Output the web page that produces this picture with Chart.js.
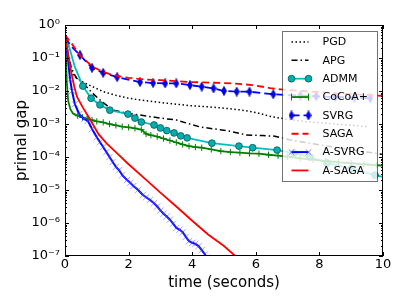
<!DOCTYPE html>
<html>
<head>
<meta charset="utf-8">
<script src="https://cdn.jsdelivr.net/npm/chart.js@4.4.1/dist/chart.umd.min.js"></script>
<style>
  html, body { margin: 0; padding: 0; background: #fff; }
  #wrap { width: 407px; height: 307px; }
</style>
</head>
<body>
<div id="wrap"><canvas id="chart" width="407" height="307"></canvas></div>
<script>
// Values: time in seconds, primal gap on a log axis.
const pgdTime = [0, 0.08, 0.15, 0.25, 0.5, 0.8, 1.2, 1.6, 2.0, 2.5, 3.0, 3.5, 4.0, 4.5, 5.0, 5.5, 6.0, 6.5, 7.0, 7.5, 8.0, 8.5, 9.0, 9.5];
const pgdGap = [5.0e-1, 1.58e-1, 6.3e-2, 3.16e-2, 2.0e-2, 1.45e-2, 9.55e-3, 7.41e-3, 6.03e-3, 5.13e-3, 4.47e-3, 3.98e-3, 3.55e-3, 3.31e-3, 3.02e-3, 2.69e-3, 2.24e-3, 1.66e-3, 1.38e-3, 1.2e-3, 1.1e-3, 1.0e-3, 9.12e-4, 8.32e-4];

const apgTime = [0, 0.1, 0.2, 0.35, 0.63, 0.85, 1.1, 1.5, 1.95, 2.5, 3.0, 3.5, 4.0, 4.25, 4.7, 5.1, 5.7, 6.2, 6.6, 7.07, 8.0, 9.0, 10];
const apgGap = [5.0e-1, 1.26e-1, 5.01e-2, 2.51e-2, 1.51e-2, 8.91e-3, 5.37e-3, 2.63e-3, 2.14e-3, 1.78e-3, 1.51e-3, 1.32e-3, 9.55e-4, 8.13e-4, 7.08e-4, 6.31e-4, 4.68e-4, 4.47e-4, 4.27e-4, 3.31e-4, 2.34e-4, 1.66e-4, 1.2e-4];

const admmTime = [0, 0.16, 0.31, 0.56, 0.82, 1.1, 1.41, 1.98, 2.2, 2.4, 2.8, 3.0, 3.2, 3.43, 3.64, 3.84, 4.62, 5.47, 5.9, 6.67, 7.2, 7.7, 8.24, 9.0, 9.75, 10];
const admmGap = [5.0e-1, 1.74e-1, 5.37e-2, 1.41e-2, 6.03e-3, 3.8e-3, 2.63e-3, 2.0e-3, 1.51e-3, 1.15e-3, 9.33e-4, 7.59e-4, 6.31e-4, 5.37e-4, 4.37e-4, 3.8e-4, 2.63e-4, 2.14e-4, 1.91e-4, 1.62e-4, 1.32e-4, 1.0e-4, 6.61e-5, 4.47e-5, 2.82e-5, 2.51e-5];

const cocoaTime = [0, 0.03, 0.06, 0.1, 0.17, 0.25, 0.4, 0.55, 0.7, 0.85, 1.0, 1.2, 1.4, 1.6, 1.8, 2.0, 2.2, 2.4, 2.55, 2.7, 2.9, 3.1, 3.3, 3.5, 3.7, 3.9, 4.1, 4.3, 4.6, 4.9, 5.2, 5.5, 5.8, 6.1, 6.4, 6.7, 7.0, 7.4, 7.8, 8.2, 8.6, 9.0, 9.4, 9.8, 10];
const cocoaGap = [5.0e-1, 1.0e-1, 1.58e-2, 5.01e-3, 2.82e-3, 2.09e-3, 1.78e-3, 1.58e-3, 1.45e-3, 1.32e-3, 1.2e-3, 1.12e-3, 1.0e-3, 9.12e-4, 8.32e-4, 7.94e-4, 7.41e-4, 6.76e-4, 5.01e-4, 4.57e-4, 4.17e-4, 3.63e-4, 3.16e-4, 2.75e-4, 2.4e-4, 2.14e-4, 2.0e-4, 1.91e-4, 1.7e-4, 1.51e-4, 1.41e-4, 1.35e-4, 1.29e-4, 1.26e-4, 1.17e-4, 1.1e-4, 1.02e-4, 9.12e-5, 8.32e-5, 7.59e-5, 6.92e-5, 6.46e-5, 6.03e-5, 5.62e-5, 5.5e-5];

const svrgTime = [0, 0.2, 0.47, 0.85, 1.2, 1.64, 2.36, 2.77, 3.15, 3.5, 3.93, 4.3, 4.67, 5.0, 5.4, 5.8, 6.55, 7.4, 7.9, 8.5, 9.1, 9.6];
const svrgGap = [4.17e-1, 2.24e-1, 1.23e-1, 5.01e-2, 3.55e-2, 2.63e-2, 1.86e-2, 1.74e-2, 1.7e-2, 1.7e-2, 1.51e-2, 1.35e-2, 1.2e-2, 1.0e-2, 9.55e-3, 9.55e-3, 7.94e-3, 7.24e-3, 6.92e-3, 6.61e-3, 6.31e-3, 6.03e-3];

const sagaTime = [0, 0.2, 0.5, 0.88, 1.2, 1.5, 2.0, 2.5, 3.0, 3.5, 4.0, 4.7, 5.3, 5.9, 6.45, 7.0, 7.5, 8.5, 9.3, 10];
const sagaGap = [5.01e-1, 2.82e-1, 1.12e-1, 5.37e-2, 3.8e-2, 3.02e-2, 2.51e-2, 2.24e-2, 2.14e-2, 2.0e-2, 1.86e-2, 1.78e-2, 1.7e-2, 1.51e-2, 1.23e-2, 1.07e-2, 1.0e-2, 8.51e-3, 7.76e-3, 7.08e-3];

const asvrgTime = [0, 0.05, 0.1, 0.16, 0.22, 0.31, 0.45, 0.6, 0.72, 0.85, 1.0, 1.1, 1.2, 1.3, 1.4, 1.5, 1.6, 1.7, 1.8, 1.95, 2.05, 2.15, 2.3, 2.45, 2.55, 2.67, 2.8, 2.9, 3.0, 3.1, 3.2, 3.3, 3.4, 3.5, 3.6, 3.7, 3.8, 3.9, 4.0, 4.1, 4.2, 4.3, 4.4, 4.47];
const asvrgGap = [5.01e-1, 2.0e-1, 7.94e-2, 2.24e-2, 1.0e-2, 3.98e-3, 2.0e-3, 1.41e-3, 1.26e-3, 7.08e-4, 3.98e-4, 2.82e-4, 2.0e-4, 1.41e-4, 1.0e-4, 7.08e-5, 5.01e-5, 3.98e-5, 2.82e-5, 2.0e-5, 1.66e-5, 1.32e-5, 1.0e-5, 7.08e-6, 6.03e-6, 5.01e-6, 3.98e-6, 3.16e-6, 2.4e-6, 1.91e-6, 1.58e-6, 1.26e-6, 9.55e-7, 7.08e-7, 6.31e-7, 5.25e-7, 3.8e-7, 2.82e-7, 2.51e-7, 2.34e-7, 2.0e-7, 1.51e-7, 1.12e-7, 8.91e-8];

const asagaTime = [0, 0.1, 0.2, 0.3, 0.38, 0.55, 0.8, 1.05, 1.3, 1.6, 2.0, 2.5, 3.0, 3.5, 4.0, 4.5, 5.0, 5.38];
const asagaGap = [5.01e-1, 1.26e-1, 3.55e-2, 1.26e-2, 6.61e-3, 3.31e-3, 1.32e-3, 5.01e-4, 2.63e-4, 1.41e-4, 6.03e-5, 2.24e-5, 8.32e-6, 3.16e-6, 1.17e-6, 4.47e-7, 2.0e-7, 9.55e-8];

const seriesNames = ['PGD', 'APG', 'ADMM', 'CoCoA+', 'SVRG', 'SAGA', 'A-SVRG', 'A-SAGA'];
const xTicks = [0, 2, 4, 6, 8, 10];
const yTicks = [1e-7, 1e-6, 1e-5, 1e-4, 1e-3, 1e-2, 1e-1, 1];
const yTickLabels = ['10⁻⁷', '10⁻⁶', '10⁻⁵', '10⁻⁴', '10⁻³', '10⁻²', '10⁻¹', '10⁰'];

// pair up time and gap arrays into {x, y} points
const toPoints = (t, g) => t.map((v, i) => ({ x: v, y: g[i] }));

// thin diamond marker used by SVRG
const thinDiamond = document.createElement('canvas');
thinDiamond.width = 6; thinDiamond.height = 10;
(() => {
  const c = thinDiamond.getContext('2d');
  c.beginPath();
  c.moveTo(3, 0.3); c.lineTo(5.6, 5); c.lineTo(3, 9.7); c.lineTo(0.4, 5); c.closePath();
  c.fillStyle = '#0000ff'; c.fill();
  c.strokeStyle = '#000080'; c.lineWidth = 0.6; c.stroke();
})();

// marker radius per point: hide markers on the first few points
const radii = (n, skip, r, lastOff) => Array.from({ length: n }, (_, i) => (i < skip || (lastOff && i === n - 1)) ? 0 : r);

const datasets = [
  { label: seriesNames[0], data: toPoints(pgdTime, pgdGap), borderColor: '#000', borderWidth: 1.5, borderDash: [1.5, 2.5], pointRadius: 0 },
  { label: seriesNames[1], data: toPoints(apgTime, apgGap), borderColor: '#000', borderWidth: 1.5, borderDash: [6, 3, 1.5, 3], pointRadius: 0 },
  { label: seriesNames[2], data: toPoints(admmTime, admmGap), borderColor: '#00bfbf', borderWidth: 1.8,
    pointStyle: 'circle', pointRadius: radii(admmTime.length, 3, 3.4, true), pointBackgroundColor: '#00b0b0', pointBorderColor: '#004545', pointBorderWidth: 0.7,
    mark: { style: 'circle', r: 3.4, fill: '#00b0b0', stroke: '#004545', w: 0.7 } },
  { label: seriesNames[3], data: toPoints(cocoaTime, cocoaGap), borderColor: '#008000', borderWidth: 1.8,
    pointStyle: 'cross', pointRadius: radii(cocoaTime.length, 6, 3.2, true), pointBorderColor: '#008000', pointBorderWidth: 1,
    mark: { style: 'line', r: 3.5, stroke: '#008000', w: 1 } },
  { label: seriesNames[4], data: toPoints(svrgTime, svrgGap), borderColor: '#0000ff', borderWidth: 1.8, borderDash: [8, 4],
    pointStyle: thinDiamond, pointRadius: radii(svrgTime.length, 2, 4, false),
    mark: { style: 'image' } },
  { label: seriesNames[5], data: toPoints(sagaTime, sagaGap), borderColor: '#ff0000', borderWidth: 1.8, borderDash: [7, 4], pointRadius: 0 },
  { label: seriesNames[6], data: toPoints(asvrgTime, asvrgGap), borderColor: '#0000ff', borderWidth: 2,
    pointStyle: 'crossRot', pointRadius: radii(asvrgTime.length, 1, 4.5, false), pointBorderColor: 'rgba(80,80,255,0.5)', pointBorderWidth: 1,
    mark: { style: 'x', r: 3.5, stroke: 'rgba(70,70,255,0.7)', w: 1 } },
  { label: seriesNames[7], data: toPoints(asagaTime, asagaGap), borderColor: '#ff0000', borderWidth: 1.8, pointRadius: 0 }
];
// later series are drawn on top, like the original plot
datasets.forEach((d, i) => { d.order = datasets.length - i; d.showLine = true; d.tension = 0; d.fill = false; });

function drawMark(ctx, m, x, y) {
  if (m.style === 'image') { ctx.drawImage(thinDiamond, x - 3, y - 5); return; }
  ctx.save();
  ctx.setLineDash([]);
  ctx.lineWidth = m.w;
  ctx.strokeStyle = m.stroke;
  ctx.beginPath();
  if (m.style === 'circle') {
    ctx.arc(x, y, m.r, 0, Math.PI * 2);
    ctx.fillStyle = m.fill; ctx.fill();
  } else if (m.style === 'line') {
    ctx.moveTo(x, y - m.r); ctx.lineTo(x, y + m.r);
  } else if (m.style === 'x') {
    ctx.moveTo(x - m.r * 0.8, y - m.r * 0.8); ctx.lineTo(x + m.r * 0.8, y + m.r * 0.8);
    ctx.moveTo(x - m.r * 0.8, y + m.r * 0.8); ctx.lineTo(x + m.r * 0.8, y - m.r * 0.8);
  }
  ctx.stroke();
  ctx.restore();
}

// frame, inward tick marks and the legend box in the upper right
const frameAndLegend = {
  id: 'frameAndLegend',
  afterDatasetsDraw(chart) {
    const { ctx, chartArea: a, scales: { x, y } } = chart;
    ctx.save();
    ctx.strokeStyle = '#000';
    ctx.lineWidth = 1;
    ctx.beginPath();
    xTicks.forEach(v => {
      const px = Math.round(x.getPixelForValue(v)) + 0.5;
      ctx.moveTo(px, a.bottom); ctx.lineTo(px, a.bottom - 4);
      ctx.moveTo(px, a.top); ctx.lineTo(px, a.top + 4);
    });
    for (let k = -7; k <= 0; k++) {
      for (let m = 1; m <= 9; m++) {
        const v = m * Math.pow(10, k);
        if (v > 1.0001) break;
        const py = Math.round(y.getPixelForValue(v)) + 0.5;
        const len = m === 1 ? 4 : 2;
        ctx.moveTo(a.left, py); ctx.lineTo(a.left + len, py);
        ctx.moveTo(a.right, py); ctx.lineTo(a.right - len, py);
      }
    }
    ctx.stroke();
    ctx.strokeRect(Math.round(a.left) + 0.5, Math.round(a.top) + 0.5, Math.round(a.right - a.left) - 1, Math.round(a.bottom - a.top) - 1);

    // legend
    const lx = a.right - 5.5, ly = a.top + 6.5;
    const bw = 95, bh = 150;
    ctx.fillStyle = 'rgba(255,255,255,0.8)';
    ctx.fillRect(lx - bw, ly, bw, bh);
    ctx.strokeStyle = 'rgba(0,0,0,0.55)';
    ctx.strokeRect(lx - bw, ly, bw, bh);
    ctx.font = '11px "DejaVu Sans"';
    ctx.textBaseline = 'middle';
    chart.data.datasets.forEach((ds, i) => {
      const cy = ly + 10.5 + i * 18.35;
      const x0 = lx - bw + 9, x1 = lx - bw + 26;
      ctx.save();
      ctx.strokeStyle = ds.borderColor;
      ctx.lineWidth = ds.borderWidth;
      ctx.setLineDash(ds.borderDash || []);
      ctx.beginPath(); ctx.moveTo(x0, cy); ctx.lineTo(x1, cy); ctx.stroke();
      ctx.restore();
      if (ds.mark) { drawMark(ctx, ds.mark, x0, cy); drawMark(ctx, ds.mark, x1, cy); }
      ctx.fillStyle = '#000';
      ctx.fillText(ds.label, lx - bw + 40, cy + 0.5);
    });
    ctx.restore();
  }
};

Chart.defaults.font.family = '"DejaVu Sans", sans-serif';
Chart.defaults.color = '#000';

new Chart(document.getElementById('chart'), {
  type: 'scatter',
  data: { datasets },
  plugins: [frameAndLegend],
  options: {
    responsive: false,
    animation: false,
    devicePixelRatio: 1,
    layout: { padding: { top: 25, right: 24, left: 0, bottom: 0 } },
    plugins: { legend: { display: false }, tooltip: { enabled: false } },
    scales: {
      x: {
        type: 'linear', min: 0, max: 10,
        afterBuildTicks: s => { s.ticks = xTicks.map(v => ({ value: v })); },
        afterFit: s => { s.height = 51; },
        grid: { display: false, drawTicks: false },
        border: { display: false },
        ticks: { font: { size: 13 }, padding: 1, maxRotation: 0, autoSkip: false },
        title: { display: true, text: 'time (seconds)', font: { size: 15 }, padding: { top: 0, bottom: 15 } }
      },
      y: {
        type: 'logarithmic', min: 1e-7, max: 1,
        afterBuildTicks: s => { s.ticks = yTicks.map(v => ({ value: v })); },
        afterFit: s => { s.width = 65; },
        grid: { display: false, drawTicks: false },
        border: { display: false },
        ticks: {
          font: { size: 13 }, padding: 5, autoSkip: false,
          callback: v => { const i = yTicks.indexOf(v); return i >= 0 ? yTickLabels[i] : ''; }
        },
        title: { display: true, text: 'primal gap', font: { size: 15 }, padding: { top: 13, bottom: 0 } }
      }
    }
  }
});
</script>
</body>
</html>
